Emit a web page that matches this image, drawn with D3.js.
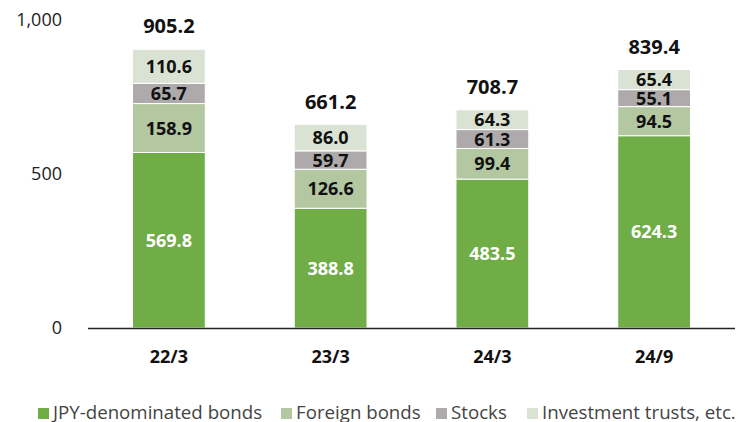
<!DOCTYPE html>
<html>
<head>
<meta charset="utf-8">
<script src="https://cdn.jsdelivr.net/npm/d3@7"></script>
<style>
  body { margin: 0; background: #fff; }
  svg { display: block; font-family: "Open Sans", sans-serif; }
</style>
</head>
<body>
<svg id="chart" width="738" height="422"></svg>
<script>
  var periods = ["22/3", "23/3", "24/3", "24/9"];
  var jpyBonds = [569.8, 388.8, 483.5, 624.3];
  var foreignBonds = [158.9, 126.6, 99.4, 94.5];
  var stocks = [65.7, 59.7, 61.3, 55.1];
  var invTrusts = [110.6, 86.0, 64.3, 65.4];
  var totals = [905.2, 661.2, 708.7, 839.4];
  var yTicks = [0, 500, 1000];

  var seriesNames = ["JPY-denominated bonds", "Foreign bonds", "Stocks", "Investment trusts, etc."];
  var colors = ["#70ad47", "#b3c7a1", "#aeaaab", "#dae3d3"];
  var labelColors = ["#fff", "#111", "#111", "#111"];

  var rows = periods.map((p, i) => ({
    period: p, s0: jpyBonds[i], s1: foreignBonds[i], s2: stocks[i], s3: invTrusts[i], total: totals[i]
  }));
  var keys = ["s0", "s1", "s2", "s3"];
  var stacked = d3.stack().keys(keys)(rows);

  var svg = d3.select("#chart");

  var x = d3.scaleBand()
      .domain(periods)
      .range([88, 735])
      .paddingInner(0.55)
      .paddingOuter(0.275);

  var y = d3.scaleLinear()
      .domain([0, 1000])
      .range([328, 20]);

  // y tick labels, no axis line
  svg.append("g")
      .attr("text-anchor", "end")
      .attr("font-size", "18px")
      .attr("fill", "#222")
    .selectAll("text")
    .data(yTicks)
    .join("text")
      .attr("x", 62)
      .attr("y", d => y(d))
      .attr("dy", "0.36em")
      .text(d => d3.format(",")(d));

  // stacked bars
  var layer = svg.append("g")
    .selectAll("g")
    .data(stacked)
    .join("g")
      .attr("fill", (d, i) => colors[i]);

  layer.selectAll("rect")
    .data(d => d)
    .join("rect")
      .attr("x", d => x(d.data.period))
      .attr("width", x.bandwidth())
      .attr("y", d => y(d[1]))
      .attr("height", d => y(d[0]) - y(d[1]))
      .attr("stroke", "#fff")
      .attr("stroke-width", 1);

  // segment labels
  svg.append("g")
      .attr("text-anchor", "middle")
      .attr("font-size", "18px")
      .attr("font-weight", "bold")
    .selectAll("g")
    .data(stacked)
    .join("g")
      .attr("fill", (d, i) => labelColors[i])
    .selectAll("text")
    .data(d => d.map(v => ({ v: v, val: v[1] - v[0] })))
    .join("text")
      .attr("x", d => x(d.v.data.period) + x.bandwidth() / 2)
      .attr("y", d => (y(d.v[0]) + y(d.v[1])) / 2)
      .attr("dy", "0.36em")
      .text(d => d.val.toFixed(1));

  // totals
  svg.append("g")
      .attr("text-anchor", "middle")
      .attr("font-size", "20px")
      .attr("font-weight", "bold")
      .attr("fill", "#111")
    .selectAll("text")
    .data(rows)
    .join("text")
      .attr("x", d => x(d.period) + x.bandwidth() / 2)
      .attr("y", d => y(d.total) - 23)
      .attr("dy", "0.36em")
      .text(d => d.total.toFixed(1));

  // baseline
  svg.append("line")
      .attr("x1", 88)
      .attr("x2", 735)
      .attr("y1", y(0) + 0.5)
      .attr("y2", y(0) + 0.5)
      .attr("stroke", "#222")
      .attr("stroke-width", 1.3);

  // category labels
  svg.append("g")
      .attr("text-anchor", "middle")
      .attr("font-size", "18px")
      .attr("font-weight", "bold")
      .attr("fill", "#111")
    .selectAll("text")
    .data(periods)
    .join("text")
      .attr("x", d => x(d) + x.bandwidth() / 2)
      .attr("y", 357)
      .attr("dy", "0.36em")
      .text(d => d);

  // legend
  var legendX = [38, 281, 436, 527];
  var legend = svg.append("g")
    .selectAll("g")
    .data(seriesNames)
    .join("g")
      .attr("transform", (d, i) => `translate(${legendX[i]},419)`);

  legend.append("rect")
      .attr("y", -11)
      .attr("width", 11)
      .attr("height", 11)
      .attr("fill", (d, i) => colors[i]);

  legend.append("text")
      .attr("x", 15)
      .attr("font-size", "18.7px")
      .attr("fill", "#444")
      .text(d => d);
</script>
</body>
</html>
